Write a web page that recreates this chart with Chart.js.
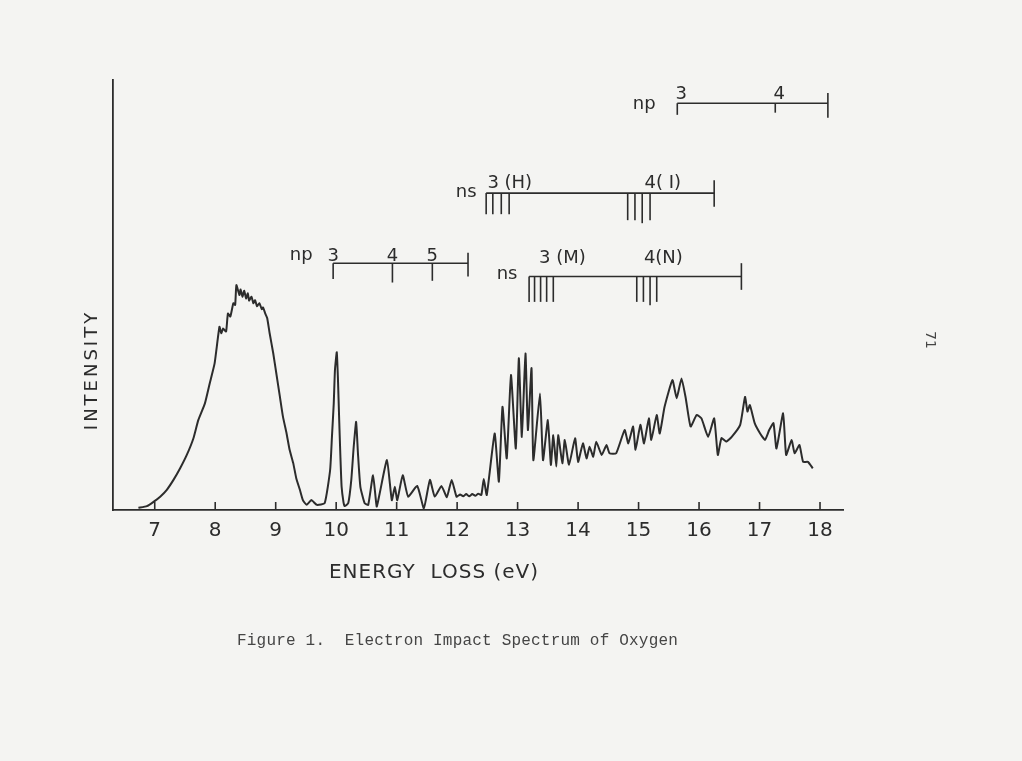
<!DOCTYPE html>
<html>
<head>
<meta charset="utf-8">
<script src="https://cdn.jsdelivr.net/npm/chart.js@4.4.1/dist/chart.umd.min.js"></script>
<style>
  html, body { margin: 0; padding: 0; background: #f4f4f2; }
  canvas { display: block; }
</style>
</head>
<body>
<canvas id="spectrum" width="1022" height="761"></canvas>
<script>
// energy loss (eV) and relative intensity
const energy = [
  6.73, 6.87, 6.98, 7.09, 7.20, 7.31, 7.42, 7.53, 7.64, 7.72, 7.83, 7.91, 7.99, 8.07, 8.10,
  8.13, 8.18, 8.21, 8.25, 8.30, 8.33, 8.35, 8.40, 8.42, 8.45, 8.48, 8.51, 8.54, 8.56, 8.60,
  8.63, 8.66, 8.69, 8.73, 8.77, 8.79, 8.83, 8.86, 8.90, 8.96, 9.01, 9.07, 9.12, 9.18, 9.23,
  9.29, 9.34, 9.40, 9.45, 9.51, 9.59, 9.68, 9.81, 9.90, 9.93, 9.96, 9.98, 10.01, 10.03, 10.05,
  10.07, 10.09, 10.12, 10.14, 10.20, 10.25, 10.29, 10.33, 10.36, 10.40, 10.47, 10.53, 10.61, 10.67, 10.72,
  10.84, 10.92, 10.97, 11.01, 11.10, 11.19, 11.34, 11.45, 11.55, 11.63, 11.74, 11.83, 11.91, 11.99, 12.05,
  12.10, 12.15, 12.20, 12.25, 12.30, 12.35, 12.40, 12.44, 12.49, 12.62, 12.69, 12.75, 12.82, 12.89, 12.97,
  13.02, 13.07, 13.13, 13.17, 13.23, 13.26, 13.37, 13.42, 13.50, 13.55, 13.59, 13.64, 13.67, 13.74, 13.78,
  13.85, 13.95, 14.00, 14.08, 14.14, 14.19, 14.25, 14.30, 14.39, 14.47, 14.52, 14.63, 14.77, 14.83, 14.91,
  14.95, 15.03, 15.09, 15.17, 15.21, 15.30, 15.35, 15.43, 15.56, 15.63, 15.71, 15.78, 15.86, 15.96, 16.04,
  16.15, 16.25, 16.31, 16.37, 16.45, 16.54, 16.68, 16.76, 16.80, 16.84, 16.92, 17.01, 17.09, 17.16, 17.23,
  17.28, 17.39, 17.44, 17.53, 17.58, 17.66, 17.72, 17.80, 17.88
];
const intensity = [
  0.5, 0.9, 1.9, 3.1, 4.7, 7.0, 9.7, 12.8, 16.7, 20.9, 24.8, 29.5, 34.1, 42.6, 41.1,
  42.2, 41.5, 45.7, 45.0, 48.1, 47.7, 52.3, 50.0, 51.3, 49.6, 51.0, 49.2, 50.4, 48.7, 49.6,
  48.1, 48.8, 47.4, 48.1, 46.7, 47.1, 45.6, 44.6, 41.1, 36.4, 31.8, 26.3, 21.7, 17.8, 14.0,
  10.9, 7.4, 4.7, 2.3, 1.2, 2.3, 1.2, 1.6, 9.3, 17.0, 24.8, 32.6, 36.7, 30.2, 20.9,
  12.4, 5.4, 1.9, 0.9, 1.6, 7.0, 14.7, 20.5, 13.2, 5.4, 1.6, 1.2, 8.1, 0.8, 3.9,
  11.6, 2.3, 5.4, 2.3, 8.1, 3.1, 5.6, 0.4, 7.0, 3.1, 5.6, 3.0, 7.0, 3.1, 3.6,
  3.2, 3.7, 3.2, 3.7, 3.3, 3.8, 3.5, 7.2, 3.5, 17.8, 6.6, 24.0, 12.0, 31.4, 14.3,
  35.3, 17.0, 36.4, 18.6, 33.0, 11.6, 27.1, 11.6, 20.9, 10.5, 17.4, 10.1, 17.4, 10.9, 16.3,
  10.5, 16.7, 11.2, 15.5, 12.0, 14.7, 12.4, 15.9, 12.8, 15.1, 13.2, 13.2, 18.6, 15.5, 19.4,
  14.0, 19.8, 15.5, 21.3, 16.3, 22.1, 17.8, 24.0, 30.2, 26.0, 30.6, 26.0, 19.4, 22.1, 21.3,
  17.0, 21.3, 12.8, 16.7, 15.9, 17.0, 19.8, 26.3, 22.9, 24.4, 20.2, 17.8, 16.3, 18.6, 20.2,
  14.3, 22.5, 12.8, 16.3, 13.2, 15.1, 11.2, 11.2, 9.7
];

const xTicks = [7, 8, 9, 10, 11, 12, 13, 14, 15, 16, 17, 18];

// Rydberg series markers (eV)
const npHigh = [15.64, 17.26];      // n = 3, 4
const npHighLabels = ["3", "4"];
const npHighLimit = 18.13;
const nsH3 = [12.48, 12.59, 12.73, 12.86];
const nsH4 = [14.82, 14.94, 15.06, 15.19];
const nsHLimit = 16.25;
const npLow = [9.95, 10.93, 11.59];  // n = 3, 4, 5
const npLowLabels = ["3", "4", "5"];
const npLowLimit = 12.18;
const nsM3 = [13.19, 13.28, 13.38, 13.48, 13.59];
const nsM4 = [14.97, 15.08, 15.19, 15.30];
const nsMLimit = 16.70;

const ink = "#2c2c2c";
const letterFont = '"DejaVu Sans", sans-serif';

function seg(ctx, x1, y1, x2, y2) {
  ctx.beginPath();
  ctx.moveTo(x1, y1);
  ctx.lineTo(x2, y2);
  ctx.stroke();
}

const annotations = {
  id: "annotations",
  afterDraw(chart) {
    const ctx = chart.ctx;
    const xs = chart.scales.x;
    const ys = chart.scales.y;
    const X = v => xs.getPixelForValue(v);
    const Y = v => ys.getPixelForValue(v);
    ctx.save();
    ctx.strokeStyle = ink;
    ctx.fillStyle = ink;
    ctx.lineWidth = 1.6;

    // inward tick marks on the energy axis
    xTicks.forEach(t => seg(ctx, X(t), Y(0), X(t), Y(0) - 8));

    ctx.font = "18px " + letterFont;
    ctx.textAlign = "center";
    ctx.textBaseline = "alphabetic";

    // np series (upper)
    let ly = 94.6;
    seg(ctx, X(npHigh[0]), Y(ly), X(npHighLimit), Y(ly));
    seg(ctx, X(npHigh[0]), Y(ly), X(npHigh[0]), Y(91.9));
    seg(ctx, X(npHigh[1]), Y(ly), X(npHigh[1]), Y(92.4));
    seg(ctx, X(npHighLimit), Y(97.0), X(npHighLimit), Y(91.2));
    npHigh.forEach((e, i) => ctx.fillText(npHighLabels[i], X(e) + 4, Y(ly) - 4));
    ctx.fillText("np", X(npHigh[0]) - 33, Y(ly) + 6);

    // ns series (H, I)
    ly = 73.7;
    seg(ctx, X(nsH3[0]), Y(ly), X(nsHLimit), Y(ly));
    nsH3.forEach(e => seg(ctx, X(e), Y(ly), X(e), Y(68.8)));
    nsH4.forEach((e, i) => seg(ctx, X(e), Y(ly), X(e), Y(i === 2 ? 66.7 : 67.4)));
    seg(ctx, X(nsHLimit), Y(76.7), X(nsHLimit), Y(70.5));
    ctx.fillText("3 (H)", X(12.87), Y(ly) - 5);
    ctx.fillText("4( I)", X(15.40), Y(ly) - 5);
    ctx.fillText("ns", X(nsH3[0]) - 20, Y(ly) + 4);

    // np series (lower)
    ly = 57.4;
    seg(ctx, X(npLow[0]), Y(ly), X(npLowLimit), Y(ly));
    seg(ctx, X(npLow[0]), Y(ly), X(npLow[0]), Y(53.7));
    seg(ctx, X(npLow[1]), Y(ly), X(npLow[1]), Y(52.9));
    seg(ctx, X(npLow[2]), Y(ly), X(npLow[2]), Y(53.3));
    seg(ctx, X(npLowLimit), Y(59.8), X(npLowLimit), Y(54.3));
    npLow.forEach((e, i) => ctx.fillText(npLowLabels[i], X(e), Y(ly) - 2));
    ctx.fillText("np", X(npLow[0]) - 32, Y(ly) - 3);

    // ns series (M, N)
    ly = 54.3;
    seg(ctx, X(nsM3[0]), Y(ly), X(nsMLimit), Y(ly));
    nsM3.forEach(e => seg(ctx, X(e), Y(ly), X(e), Y(48.4)));
    nsM4.forEach((e, i) => seg(ctx, X(e), Y(ly), X(e), Y(i === 2 ? 47.6 : 48.4)));
    seg(ctx, X(nsMLimit), Y(57.4), X(nsMLimit), Y(51.2));
    ctx.fillText("3 (M)", X(13.74), Y(ly) - 14);
    ctx.fillText("4(N)", X(15.41), Y(ly) - 14);
    ctx.fillText("ns", X(nsM3[0]) - 22, Y(ly) + 2);

    // axis titles
    ctx.font = "20px " + letterFont;
    ctx.letterSpacing = "1px";
    ctx.fillText("ENERGY  LOSS (eV)", 434, 578);

    ctx.save();
    ctx.translate(97, 370);
    ctx.rotate(-Math.PI / 2);
    ctx.font = "18px " + letterFont;
    ctx.letterSpacing = "3px";
    ctx.fillText("INTENSITY", 0, 0);
    ctx.restore();

    // caption and page number
    ctx.letterSpacing = "0.2px";
    ctx.fillStyle = "#454545";
    ctx.textAlign = "left";
    ctx.font = '16px "Liberation Mono", monospace';
    ctx.fillText("Figure 1.  Electron Impact Spectrum of Oxygen", 237, 645);

    ctx.save();
    ctx.letterSpacing = "0px";
    ctx.translate(926, 340);
    ctx.rotate(Math.PI / 2);
    ctx.textAlign = "center";
    ctx.font = "14px " + letterFont;
    ctx.fillText("71", 0, 0);
    ctx.restore();

    ctx.restore();
  }
};

const ctx = document.getElementById("spectrum").getContext("2d");
const spectrumChart = new Chart(ctx, {
  type: "line",
  data: {
    datasets: [
      {
        label: "Intensity",
        data: energy.map((e, i) => ({ x: e, y: intensity[i] })),
        borderColor: ink,
        borderWidth: 2,
        pointRadius: 0,
        tension: 0.15,
        fill: false,
      },
    ],
  },
  options: {
    responsive: false,
    animation: false,
    layout: { padding: { left: 113, top: 80, right: 179, bottom: 0 } },
    scales: {
      x: {
        type: "linear",
        min: 6.31,
        max: 18.38,
        afterBuildTicks: s => { s.ticks = xTicks.map(v => ({ value: v })); },
        afterFit: s => { s.height = 251; },
        grid: { display: false, drawTicks: false },
        border: { display: true, color: ink, width: 1.8 },
        ticks: {
          padding: 9,
          color: ink,
          font: { family: '"DejaVu Sans", sans-serif', size: 20 },
          maxRotation: 0,
          autoSkip: false,
        },
      },
      y: {
        min: 0,
        max: 100,
        afterFit: s => { s.width = 0; },
        grid: { display: false, drawTicks: false },
        border: { display: true, color: ink, width: 1.8 },
        ticks: { display: false },
      },
    },
    plugins: {
      legend: { display: false },
      tooltip: { enabled: false },
    },
  },
  plugins: [annotations],
});
</script>
</body>
</html>
